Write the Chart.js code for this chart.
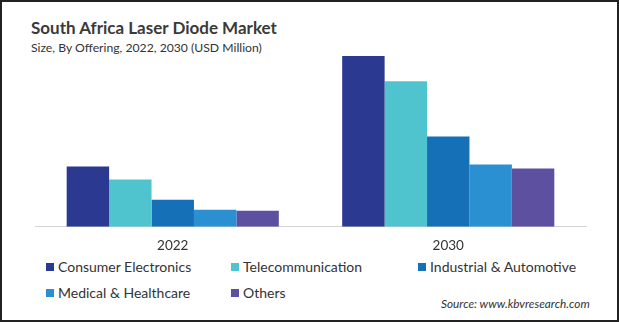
<!DOCTYPE html>
<html>
<head>
<meta charset="utf-8">
<script src="https://cdn.jsdelivr.net/npm/chart.js@4.4.0/dist/chart.umd.min.js"></script>
<style>
  html, body { margin: 0; padding: 0; background: #fff; }
  #frame {
    position: relative; width: 619px; height: 322px; box-sizing: border-box;
    border: 2px solid #222; background: #fff; overflow: hidden;
    font-family: Lato, "Open Sans", sans-serif; color: #333;
  }
  #title { position: absolute; left: 29px; top: 15px; font-size: 17px; font-weight: bold; color: #3a3a3a; }
  #subtitle { position: absolute; left: 29px; top: 38px; font-size: 12.2px; color: #333; }
  #chartBox { position: absolute; left: -2px; top: -2px; width: 619px; height: 257px; }
  .leg { position: absolute; font-size: 14px; line-height: 17px; color: #333; white-space: nowrap; }
  .leg span { position: absolute; left: 0; top: 5px; width: 8px; height: 8px; }
  .leg b { font-weight: normal; margin-left: 12px; }
  #source { position: absolute; left: 439px; top: 294px; font-size: 11.8px; font-style: italic; color: #333; }
</style>
</head>
<body>
<div id="frame">
  <div id="title">South Africa Laser Diode Market</div>
  <div id="subtitle">Size, By Offering, 2022, 2030 (USD Million)</div>
  <div id="chartBox"><canvas id="marketChart"></canvas></div>
  <div id="legend"></div>
  <div id="source">Source: www.kbvresearch.com</div>
</div>
<script>
const years = ['2022', '2030'];
const segments = ['Consumer Electronics', 'Telecommunication', 'Industrial & Automotive', 'Medical & Healthcare', 'Others'];
const colors = ['#2b3990', '#4fc4cf', '#1570b7', '#2b90d2', '#5e50a1'];

const consumerElectronics = [60, 170];
const telecommunication = [47, 145];
const industrialAutomotive = [27, 90];
const medicalHealthcare = [17, 62];
const others = [16, 58];

const seriesValues = [consumerElectronics, telecommunication, industrialAutomotive, medicalHealthcare, others];

// legend laid out in two rows, three columns
const legendPos = [[44, 256], [229, 256], [416, 256], [44, 282], [229, 282]];
const legendEl = document.getElementById('legend');
segments.forEach((name, i) => {
  const d = document.createElement('div');
  d.className = 'leg';
  d.style.left = legendPos[i][0] + 'px';
  d.style.top = legendPos[i][1] + 'px';
  const sw = document.createElement('span');
  sw.style.background = colors[i];
  const txt = document.createElement('b');
  txt.textContent = name;
  d.appendChild(sw);
  d.appendChild(txt);
  legendEl.appendChild(d);
});

new Chart(document.getElementById('marketChart'), {
  type: 'bar',
  data: {
    labels: years,
    datasets: segments.map((name, i) => ({
      label: name,
      data: seriesValues[i],
      backgroundColor: colors[i],
      borderWidth: 0,
      barPercentage: 1,
      categoryPercentage: 0.77
    }))
  },
  options: {
    responsive: true,
    maintainAspectRatio: false,
    animation: false,
    layout: { padding: { left: 35, right: 33, top: 46, bottom: 0 } },
    plugins: { legend: { display: false }, tooltip: { enabled: false } },
    scales: {
      x: {
        grid: { display: false },
        border: { color: '#d4d4d4', width: 1 },
        ticks: { color: '#333', padding: 3, font: { family: 'Lato, sans-serif', size: 13.5 } }
      },
      y: { display: false, min: 0, max: 180 }
    }
  }
});
</script>
</body>
</html>
